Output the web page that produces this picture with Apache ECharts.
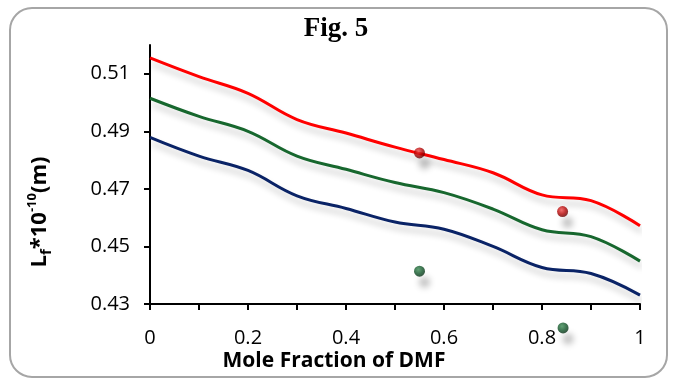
<!DOCTYPE html>
<html>
<head>
  <meta charset="UTF-8">
  <title>Fig. 5</title>
  <script src="https://cdn.jsdelivr.net/npm/echarts@6/dist/echarts.min.js"></script>
  <style>
    body { margin: 0; padding: 0; background: #fff; }
    #chart { width: 678px; height: 381px; }
  </style>
</head>
<body>
  <div id="chart"></div>
  <script>
    // mole fraction of DMF
    var xs = [0, 0.1, 0.2, 0.3, 0.4, 0.5, 0.6, 0.7, 0.8, 0.9, 1];
    var redLine = [0.5155, 0.509, 0.5032, 0.4941, 0.4894, 0.4845, 0.4802, 0.4756, 0.4679, 0.4659, 0.4572];
    var greenLine = [0.5015, 0.4952, 0.490, 0.4814, 0.4768, 0.4722, 0.4687, 0.463, 0.4558, 0.4534, 0.4449];
    var navyLine = [0.4879, 0.4814, 0.4764, 0.4676, 0.4632, 0.4585, 0.456, 0.450, 0.4427, 0.4406, 0.4331];
    var redDots = [[0.55, 0.4825], [0.842, 0.4621]];
    var greenDots = [[0.55, 0.4414], [0.843, 0.4217]];

    function pairs(ys) {
      return xs.map(function (x, i) { return [x, ys[i]]; });
    }

    var labelFont = '"Open Sans", sans-serif';

    function lineSeries(ys, color) {
      return {
        type: 'line',
        data: pairs(ys),
        smooth: 0.4,
        showSymbol: false,
        lineStyle: {
          color: color, width: 3,
          shadowColor: 'rgba(0,0,0,0.22)', shadowBlur: 6, shadowOffsetX: 2, shadowOffsetY: 6
        },
        z: 3
      };
    }

    function ball(light, mid, dark) {
      return {
        type: 'radial', x: 0.4, y: 0.35, r: 0.7,
        colorStops: [{ offset: 0, color: light }, { offset: 0.55, color: mid }, { offset: 1, color: dark }]
      };
    }

    function dotSeries(pts, light, mid, dark) {
      return {
        type: 'scatter',
        data: pts,
        symbolSize: 11,
        clip: false,
        itemStyle: {
          color: ball(light, mid, dark),
          shadowColor: 'rgba(0,0,0,0.3)', shadowBlur: 6, shadowOffsetX: 5, shadowOffsetY: 11
        },
        z: 4
      };
    }

    var chart = echarts.init(document.getElementById('chart'), null, { renderer: 'canvas' });

    chart.setOption({
      animation: false,
      title: [{
        text: 'Fig. 5',
        left: 331, top: 11, textAlign: 'center',
        textStyle: { fontFamily: '"Liberation Serif", serif', fontWeight: 'bold', fontSize: 27, color: '#000' }
      }, {
        text: 'Mole Fraction of DMF',
        left: 329, top: 346, textAlign: 'center',
        textStyle: { fontFamily: labelFont, fontWeight: 'bold', fontSize: 21, color: '#000' }
      }],
      graphic: [{
        type: 'rect',
        shape: { x: 10, y: 8, width: 657, height: 369, r: 22 },
        style: { fill: 'none', stroke: '#a6a6a6', lineWidth: 2 },
        silent: true
      }, {
        type: 'text',
        x: 40, y: 212,
        rotation: Math.PI / 2,
        style: {
          text: '{b|L}{sub|f}{b|*10}{sup|-10}{b|(m)}',
          textAlign: 'center', textVerticalAlign: 'middle',
          rich: {
            b: { fontFamily: labelFont, fontWeight: 'bold', fontSize: 22, lineHeight: 28, verticalAlign: 'middle', fill: '#000' },
            sub: { fontFamily: labelFont, fontWeight: 'bold', fontSize: 15, lineHeight: 28, verticalAlign: 'bottom', fill: '#000' },
            sup: { fontFamily: labelFont, fontWeight: 'bold', fontSize: 13, lineHeight: 28, verticalAlign: 'top', fill: '#000' }
          }
        }
      }],
      grid: { left: 150, right: 38, top: 45, bottom: 77 },
      xAxis: {
        type: 'value', min: 0, max: 1, interval: 0.1,
        axisLine: { lineStyle: { color: '#000', width: 2 } },
        axisTick: { show: true, length: 6, lineStyle: { color: '#000', width: 2 } },
        splitLine: { show: false },
        axisLabel: {
          margin: 24, color: '#000', fontFamily: labelFont, fontSize: 20,
          formatter: function (v) {
            var k = Math.round(v * 10);
            return k % 2 ? '' : String(k / 10);
          }
        }
      },
      yAxis: {
        type: 'value', min: 0.43, max: 0.52, interval: 0.02,
        axisLine: { show: true, lineStyle: { color: '#000', width: 2 } },
        axisTick: { show: true, length: 6, lineStyle: { color: '#000', width: 2 } },
        splitLine: { show: false },
        axisLabel: {
          margin: 20, color: '#000', fontFamily: labelFont, fontSize: 20,
          showMaxLabel: false,
          formatter: function (v) { return v.toFixed(2); }
        }
      },
      series: [
        lineSeries(redLine, '#ff0000'),
        lineSeries(greenLine, '#17672e'),
        lineSeries(navyLine, '#0a2366'),
        dotSeries(redDots, '#f04a4a', '#b00000', '#5a0000'),
        dotSeries(greenDots, '#3a8a52', '#0e5226', '#052a12')
      ]
    });
  </script>
</body>
</html>
